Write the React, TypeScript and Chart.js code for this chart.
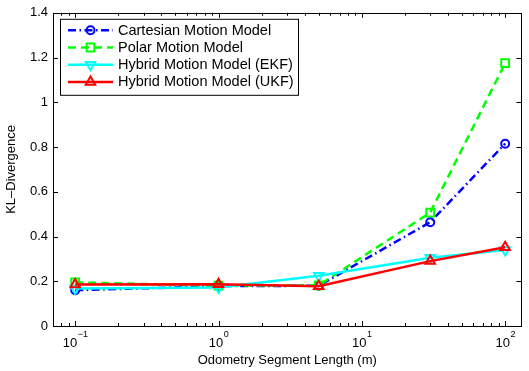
import React, { useEffect, useRef } from "react";
import { Chart, registerables } from "chart.js";

Chart.register(...registerables);

// ---- data ----
const X_VALUES = [0.1, 1, 5, 30, 100];
const CARTESIAN = [0.16, 0.178, 0.18, 0.464, 0.815];
const POLAR = [0.195, 0.18, 0.182, 0.507, 1.175];
const HYBRID_EKF = [0.168, 0.172, 0.225, 0.305, 0.34];
const HYBRID_UKF = [0.185, 0.187, 0.178, 0.29, 0.352];
const SERIES_LABELS = [
  "Cartesian Motion Model",
  "Polar Motion Model",
  "Hybrid Motion Model (EKF)",
  "Hybrid Motion Model (UKF)",
];
const X_TICKS = [0.1, 1, 10, 100];
const X_TICK_EXPONENTS = ["\u22121", "0", "1", "2"];
const Y_TICKS = [0, 0.2, 0.4, 0.6, 0.8, 1, 1.2, 1.4];
const X_TITLE = "Odometry Segment Length (m)";
const Y_TITLE = "KL\u2013Divergence";

const FONT = "'Liberation Sans', Arial, Helvetica, sans-serif";

type Style = {
  color: string;
  dash: number[];
  point: "circle" | "rect" | "triangle";
  radius: number;
  rotation: number;
  order: number;
};

const STYLES: Style[] = [
  { color: "#0000ff", dash: [8, 3.5, 1.5, 3.5], point: "circle", radius: 4, rotation: 0, order: 3 },
  { color: "#00ff00", dash: [8, 5], point: "rect", radius: 5.5, rotation: 0, order: 2 },
  { color: "#00ffff", dash: [], point: "triangle", radius: 5.5, rotation: 180, order: 1 },
  { color: "#ff0000", dash: [], point: "triangle", radius: 5.5, rotation: 0, order: 0 },
];

const SERIES_DATA = [CARTESIAN, POLAR, HYBRID_EKF, HYBRID_UKF];

function drawMarker(ctx: CanvasRenderingContext2D, s: Style, x: number, y: number) {
  ctx.save();
  ctx.setLineDash([]);
  ctx.strokeStyle = s.color;
  ctx.lineWidth = 2;
  ctx.beginPath();
  if (s.point === "circle") {
    ctx.arc(x, y, s.radius, 0, Math.PI * 2);
  } else if (s.point === "rect") {
    const h = s.radius * Math.SQRT1_2;
    ctx.rect(x - h, y - h, 2 * h, 2 * h);
  } else {
    let rad = (s.rotation * Math.PI) / 180;
    const r = s.radius;
    ctx.moveTo(x + Math.sin(rad) * r, y - Math.cos(rad) * r);
    rad += (2 * Math.PI) / 3;
    ctx.lineTo(x + Math.sin(rad) * r, y - Math.cos(rad) * r);
    rad += (2 * Math.PI) / 3;
    ctx.lineTo(x + Math.sin(rad) * r, y - Math.cos(rad) * r);
    ctx.closePath();
  }
  ctx.stroke();
  ctx.restore();
}

const matlabPlugin = {
  id: "matlabAxes",
  afterDraw(chart: any) {
    const ctx: CanvasRenderingContext2D = chart.ctx;
    const { left, right, top, bottom } = chart.chartArea;
    const xs = chart.scales.x;
    const ys = chart.scales.y;
    ctx.save();
    ctx.strokeStyle = "#000";
    ctx.lineWidth = 1;
    // frame
    ctx.strokeRect(Math.round(left) + 0.5, Math.round(top) + 0.5, Math.round(right - left) - 1, Math.round(bottom - top));
    // x ticks (major + minor), inward, top and bottom
    ctx.beginPath();
    for (let d = -2; d <= 2; d++) {
      for (let m = 1; m <= 9; m++) {
        const v = m * Math.pow(10, d);
        if (v < xs.min || v > xs.max) continue;
        const px = Math.round(xs.getPixelForValue(v)) + 0.5;
        const len = m === 1 ? 5 : 3;
        ctx.moveTo(px, bottom);
        ctx.lineTo(px, bottom - len);
        ctx.moveTo(px, top);
        ctx.lineTo(px, top + len);
      }
    }
    // y ticks inward, left and right
    for (const v of Y_TICKS) {
      const py = Math.round(ys.getPixelForValue(v)) + 0.5;
      ctx.moveTo(left, py);
      ctx.lineTo(left + 5, py);
      ctx.moveTo(right, py);
      ctx.lineTo(right - 5, py);
    }
    ctx.stroke();

    // x tick labels 10^n
    ctx.fillStyle = "#000";
    ctx.textBaseline = "alphabetic";
    ctx.textAlign = "left";
    X_TICKS.forEach((v, i) => {
      const px = xs.getPixelForValue(v);
      ctx.font = `13px ${FONT}`;
      const wBase = ctx.measureText("10").width;
      ctx.font = `9px ${FONT}`;
      const wExp = ctx.measureText(X_TICK_EXPONENTS[i]).width;
      const x0 = px - (wBase + wExp) / 2;
      ctx.font = `13px ${FONT}`;
      ctx.fillText("10", x0, bottom + 21);
      ctx.font = `9px ${FONT}`;
      ctx.fillText(X_TICK_EXPONENTS[i], x0 + wBase + 0.5, bottom + 11);
    });

    // legend
    const bx = left + 7;
    const by = top + 6;
    const bw = 238;
    const bh = 76;
    ctx.fillStyle = "#fff";
    ctx.fillRect(bx, by, bw, bh);
    ctx.strokeStyle = "#000";
    ctx.lineWidth = 1;
    ctx.strokeRect(bx + 0.5, by + 0.5, bw, bh);
    STYLES.forEach((s, i) => {
      const cy = by + 11.5 + i * 17.2;
      ctx.save();
      ctx.strokeStyle = s.color;
      ctx.lineWidth = 2.5;
      ctx.setLineDash(s.dash);
      ctx.beginPath();
      ctx.moveTo(bx + 8, cy);
      ctx.lineTo(bx + 53, cy);
      ctx.stroke();
      ctx.restore();
      drawMarker(ctx, s, bx + 30.5, cy);
      ctx.fillStyle = "#000";
      ctx.font = `14.5px ${FONT}`;
      ctx.textBaseline = "middle";
      ctx.fillText(SERIES_LABELS[i], bx + 58, cy + 0.5);
    });
    ctx.restore();
  },
};

export default function App() {
  const canvasRef = useRef<HTMLCanvasElement | null>(null);

  useEffect(() => {
    const canvas = canvasRef.current;
    if (!canvas) return;
    const chart = new Chart(canvas, {
      type: "line",
      data: {
        datasets: SERIES_DATA.map((arr, i) => ({
          label: SERIES_LABELS[i],
          data: X_VALUES.map((x, j) => ({ x, y: arr[j] })),
          borderColor: STYLES[i].color,
          backgroundColor: "rgba(0,0,0,0)",
          borderWidth: 2.5,
          borderDash: STYLES[i].dash,
          pointStyle: STYLES[i].point,
          pointRadius: STYLES[i].radius,
          pointRotation: STYLES[i].rotation,
          pointBorderWidth: 2,
          pointBorderColor: STYLES[i].color,
          pointBackgroundColor: "rgba(0,0,0,0)",
          tension: 0,
          order: STYLES[i].order,
          clip: false as any,
        })),
      },
      options: {
        responsive: false,
        animation: false,
        layout: { padding: { top: 12, right: 1, left: 0, bottom: 0 } },
        plugins: {
          legend: { display: false },
          tooltip: { enabled: false },
        },
        scales: {
          x: {
            type: "logarithmic",
            min: 0.07,
            max: 130,
            afterBuildTicks: (scale: any) => {
              scale.ticks = X_TICKS.map((v) => ({ value: v }));
            },
            afterFit: (scale: any) => {
              scale.height = 45;
            },
            ticks: { display: false },
            grid: { display: false, drawTicks: false },
            border: { display: false },
            title: {
              display: true,
              text: X_TITLE,
              color: "#000",
              font: { family: FONT, size: 13 },
              padding: { top: 0, bottom: 3 },
            },
          },
          y: {
            type: "linear",
            min: 0,
            max: 1.4,
            afterBuildTicks: (scale: any) => {
              scale.ticks = Y_TICKS.map((v) => ({ value: v }));
            },
            afterFit: (scale: any) => {
              scale.width = 53;
            },
            ticks: {
              color: "#000",
              padding: 5,
              font: { family: FONT, size: 13 },
              callback: (v: any) => {
                const n = Number(v);
                return Number.isInteger(n) ? String(n) : n.toFixed(1);
              },
            },
            grid: { display: false, drawTicks: false },
            border: { display: false },
            title: {
              display: true,
              text: Y_TITLE,
              color: "#000",
              font: { family: FONT, size: 13 },
              padding: { top: 4, bottom: 0 },
            },
          },
        },
      },
      plugins: [matlabPlugin],
    } as any);
    return () => chart.destroy();
  }, []);

  return (
    <div style={{ position: "absolute", left: 0, top: 0, width: 529, height: 371, background: "#fff" }}>
      <canvas ref={canvasRef} width={529} height={371} style={{ width: 529, height: 371, display: "block" }} />
    </div>
  );
}
